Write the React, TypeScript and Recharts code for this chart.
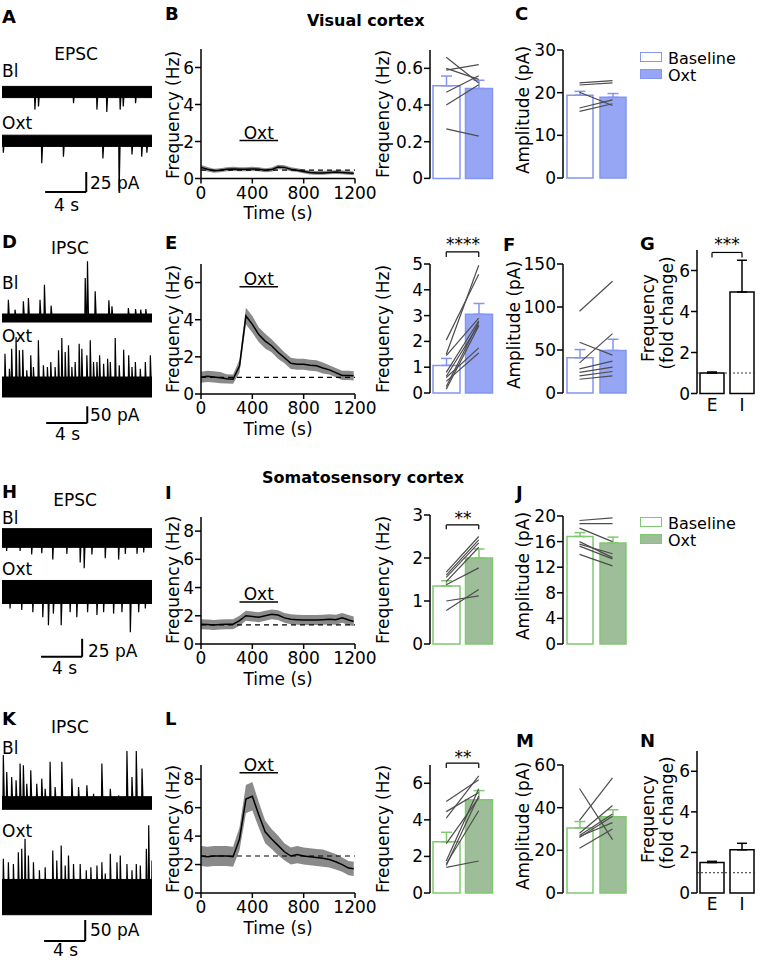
import React from "react";
import {
  Area,
  Bar,
  Cell,
  ComposedChart,
  ErrorBar,
  Line,
  LineChart,
  ReferenceArea,
  ReferenceLine,
  XAxis,
  YAxis,
} from "recharts";

const FONT = "DejaVu Sans";
const TICK = { fontSize: 17, fill: "#000", fontFamily: FONT };
const AX = { stroke: "#000", strokeWidth: 1.5 };

const BLUE = { edge: "#8396f0", fill: "#97a6f4" };
const GREEN = { edge: "#80c970", fill: "#9ebd99" };
const BLACK = { edge: "#000", fill: "#fff" };

// example traces: [time (s), amplitude (pA)] of visible events
const T_END = 14.6;
const A_BL = [[3.2, 22], [3.55, 18], [6.96, 14], [9.24, 22], [10.2, 25], [11.5, 22], [11.8, 18], [13.0, 14]];
const A_OXT = [[0.13, 15], [3.87, 28], [5.98, 20], [9.82, 22], [11.4, 63], [12.65, 17], [13.6, 20], [14.1, 15]];
const D_BL = [[0.62, 55], [1.27, 25], [2.08, 50], [2.57, 60], [3.7, 55], [4.13, 100], [4.78, 37], [8.1, 120], [8.32, 170], [9.07, 80], [10.4, 53], [10.7, 35], [12.3, 30], [13.0, 27], [13.5, 25], [14.0, 27]];
const D_OXT = [[0.29, 100], [0.72, 55], [0.94, 115], [1.37, 150], [1.69, 110], [2.02, 112], [2.41, 50], [2.8, 95], [3.06, 60], [3.54, 140], [4.03, 65], [4.42, 60], [4.75, 75], [5.17, 60], [5.5, 110], [5.82, 147], [6.15, 105], [6.47, 125], [6.8, 60], [7.12, 75], [7.51, 130], [7.77, 115], [8.26, 95], [8.59, 140], [8.91, 75], [9.24, 75], [9.5, 95], [9.89, 70], [10.28, 85], [10.54, 75], [11.02, 147], [11.41, 65], [11.84, 112], [12.33, 95], [12.65, 60], [12.98, 75], [13.46, 55], [13.95, 75], [14.44, 95]];
const H_BL = [[0.45, 18], [1.76, 18], [2.89, 23], [3.87, 21], [4.94, 30], [6.31, 22], [7.61, 34], [8.0, 42], [8.75, 23], [10.05, 28], [11.35, 30], [12.0, 22], [13.14, 22], [13.79, 20]];
const H_OXT = [[0.78, 23], [1.92, 25], [3.0, 28], [3.97, 35], [4.52, 46], [5.0, 30], [5.76, 46], [6.63, 28], [7.28, 35], [8.33, 28], [9.24, 32], [9.89, 28], [10.86, 30], [11.67, 28], [12.49, 56], [13.3, 28], [13.95, 23]];
const K_BL = [[0.13, 114], [0.46, 74], [0.94, 62], [1.37, 54], [1.76, 94], [2.08, 90], [2.41, 46], [2.8, 78], [3.38, 46], [3.87, 58], [4.2, 34], [4.68, 98], [5.17, 38], [5.82, 98], [6.8, 58], [7.45, 38], [8.26, 42], [8.91, 22], [9.72, 94], [10.54, 34], [11.35, 18], [12.16, 124], [12.65, 62], [13.07, 124], [13.63, 82]];
const K_OXT = [[0.13, 91], [0.62, 83], [1.11, 79], [1.59, 107], [1.92, 115], [2.24, 139], [2.57, 99], [3.06, 83], [3.64, 64], [4.2, 71], [4.94, 111], [5.33, 87], [5.76, 123], [6.15, 75], [6.47, 99], [6.96, 79], [7.61, 79], [8.2, 64], [8.65, 71], [9.24, 75], [9.72, 83], [10.05, 56], [10.54, 103], [11.19, 83], [11.51, 99], [12.16, 79], [12.65, 64], [13.07, 79], [13.46, 75], [14.05, 115], [14.28, 171], [14.6, 87]];

// time courses (s, Hz)
const TIME = [0, 50, 100, 150, 200, 250, 300, 350, 400, 450, 500, 550, 600, 650, 700, 750, 800, 850, 900, 950, 1000, 1050, 1100, 1150, 1190];
const B_MEAN = [0.6, 0.5, 0.42, 0.45, 0.5, 0.52, 0.5, 0.5, 0.52, 0.5, 0.45, 0.48, 0.62, 0.6, 0.5, 0.45, 0.38, 0.32, 0.3, 0.3, 0.33, 0.35, 0.33, 0.3, 0.28];
const B_SEM = [0.13, 0.12, 0.11, 0.11, 0.11, 0.11, 0.11, 0.11, 0.11, 0.11, 0.11, 0.11, 0.12, 0.12, 0.11, 0.1, 0.1, 0.1, 0.1, 0.1, 0.1, 0.1, 0.1, 0.1, 0.1];
const E_MEAN = [0.9, 0.95, 0.92, 0.88, 0.82, 0.8, 1.5, 4.2, 3.75, 3.2, 2.85, 2.6, 2.25, 1.95, 1.65, 1.6, 1.6, 1.55, 1.52, 1.4, 1.3, 1.15, 1.0, 1.0, 0.98];
const E_SEM = [0.3, 0.3, 0.3, 0.3, 0.25, 0.25, 0.35, 0.45, 0.45, 0.4, 0.4, 0.35, 0.35, 0.3, 0.3, 0.3, 0.3, 0.3, 0.3, 0.3, 0.25, 0.25, 0.25, 0.25, 0.25];
const I_MEAN = [1.4, 1.38, 1.35, 1.38, 1.4, 1.4, 1.65, 2.0, 1.95, 1.9, 2.0, 2.1, 2.05, 1.85, 1.75, 1.72, 1.7, 1.7, 1.7, 1.72, 1.75, 1.72, 1.85, 1.7, 1.6];
const I_SEM = [0.35, 0.35, 0.35, 0.35, 0.35, 0.35, 0.35, 0.35, 0.35, 0.35, 0.35, 0.35, 0.35, 0.35, 0.35, 0.35, 0.35, 0.35, 0.35, 0.35, 0.35, 0.35, 0.35, 0.35, 0.35];
const L_MEAN = [2.6, 2.55, 2.6, 2.6, 2.6, 2.55, 3.8, 6.6, 6.8, 5.5, 4.3, 3.8, 3.35, 2.9, 2.6, 2.7, 2.6, 2.55, 2.5, 2.45, 2.35, 2.2, 2.0, 1.75, 1.7];
const L_SEM = [0.7, 0.7, 0.7, 0.7, 0.7, 0.7, 0.8, 1.0, 1.0, 0.9, 0.8, 0.7, 0.7, 0.6, 0.6, 0.6, 0.6, 0.6, 0.6, 0.6, 0.55, 0.55, 0.5, 0.5, 0.5];

// bar summaries: [Baseline, Oxt]
const B_FREQ = [0.505, 0.49];
const B_FREQ_SEM = [0.053, 0.045];
const B_FREQ_PRE = [0.66, 0.6, 0.59, 0.47, 0.4, 0.27];
const B_FREQ_POST = [0.52, 0.54, 0.62, 0.56, 0.51, 0.23];
const C_AMP = [19.4, 18.9];
const C_AMP_SEM = [0.9, 0.9];
const C_AMP_PRE = [22.3, 21.8, 20.1, 16.4, 15.6];
const C_AMP_POST = [22.8, 22.3, 17.0, 18.3, 17.4];
const E_FREQ = [1.07, 3.05];
const E_FREQ_SEM = [0.27, 0.42];
const E_FREQ_PRE = [2.05, 1.5, 1.45, 0.8, 0.65, 0.6, 0.45, 0.25, 0.15];
const E_FREQ_POST = [4.6, 4.95, 2.9, 2.8, 2.65, 1.75, 1.55, 2.75, 2.6];
const F_AMP = [41, 49.5];
const F_AMP_SEM = [9.5, 13];
const F_AMP_PRE = [95, 59, 35, 28, 24, 20, 16];
const F_AMP_POST = [130, 44, 69, 37, 30, 25, 20];
const G_FOLD = [1.0, 4.95];
const G_FOLD_SEM = [0.05, 1.55];
const I_FREQ = [1.35, 2.0];
const I_FREQ_SEM = [0.12, 0.21];
const I_FREQ_PRE = [1.67, 1.6, 1.55, 1.45, 1.38, 1.0, 0.78];
const I_FREQ_POST = [2.5, 2.42, 2.35, 2.25, 1.77, 1.12, 1.27];
const J_AMP = [16.8, 15.8];
const J_AMP_SEM = [0.6, 0.9];
const J_AMP_PRE = [19.3, 18.8, 18.1, 16.0, 15.6, 15.3, 14.0];
const J_AMP_POST = [19.7, 18.8, 16.0, 13.5, 14.1, 13.3, 12.2];
const L_FREQ = [2.8, 5.1];
const L_FREQ_SEM = [0.52, 0.5];
const L_FREQ_PRE = [5.0, 4.45, 4.1, 2.7, 1.75, 1.6, 1.5, 1.4];
const L_FREQ_POST = [6.2, 5.5, 6.4, 5.2, 5.7, 4.5, 5.3, 1.75];
const M_AMP = [30.5, 35.8];
const M_AMP_SEM = [3, 3.2];
const M_AMP_PRE = [49, 34, 28, 27, 26.5, 26, 21];
const M_AMP_POST = [25, 54, 41, 37, 33, 36, 30];
const N_FOLD = [1.5, 2.13];
const N_FOLD_SEM = [0.06, 0.32];

const GROUPS = ["Baseline", "Oxt"];
const FOLD_CATS = ["E", "I"];

type Box = { x0: number; x1: number; y0: number; y1: number };
const YW = 40;
const PAD_T = 24;
const PAD_B = 12;

function place(b: Box, xh: number, padR: number) {
  return {
    left: b.x0 - YW,
    top: b.y0 - PAD_T,
    width: b.x1 - b.x0 + YW + padR,
    height: b.y1 - b.y0 + PAD_T + xh,
  };
}

function Txt({ x, y, s = 17, bold = false, center = false, children }: any) {
  return (
    <div
      style={{
        position: "absolute",
        left: x,
        top: y - 0.12 * s,
        fontSize: s,
        lineHeight: `${s}px`,
        fontWeight: bold ? 700 : 400,
        whiteSpace: "nowrap",
        transform: center ? "translateX(-50%)" : undefined,
      }}
    >
      {children}
    </div>
  );
}

function VTxt({ cx, cy, s = 17, children }: any) {
  return (
    <div
      style={{
        position: "absolute",
        left: cx,
        top: cy,
        fontSize: s,
        lineHeight: `${s}px`,
        whiteSpace: "nowrap",
        transform: "translate(-50%, -50%) rotate(-90deg)",
      }}
    >
      {children}
    </div>
  );
}

function spikes(ev: number[][], off: number, dir: number) {
  const pts = [{ t: 0, v: off }];
  ev.forEach(([t, a]) => {
    pts.push({ t: t - 0.04, v: off }, { t, v: off + dir * a }, { t: t + 0.1, v: off });
  });
  pts.push({ t: T_END, v: off });
  return pts;
}

type Row = { ev: number[][]; off: number; dir: number; noise: number };

function Trace({ top, height, lo, hi, rows, bar }: { top: number; height: number; lo: number; hi: number; rows: Row[]; bar: { x: number; y0: number; y1: number } }) {
  return (
    <div style={{ position: "absolute", left: 2, top }}>
      <LineChart width={150} height={height} margin={{ top: 0, right: 0, bottom: 0, left: 0 }}>
        <XAxis type="number" dataKey="t" domain={[0, T_END]} hide allowDataOverflow />
        <YAxis type="number" domain={[lo, hi]} hide allowDataOverflow />
        {rows.map((r, i) => (
          <ReferenceArea key={`n${i}`} x1={0} x2={T_END} y1={r.off - r.noise} y2={r.off + r.noise} fill="#000" fillOpacity={1} stroke="#000" strokeWidth={1} />
        ))}
        {rows.map((r, i) => (
          <Line key={`s${i}`} data={spikes(r.ev, r.off, r.dir)} dataKey="v" stroke="#000" strokeWidth={1.2} dot={false} isAnimationActive={false} />
        ))}
        <ReferenceLine segment={[{ x: bar.x, y: bar.y0 }, { x: bar.x, y: bar.y1 }]} stroke="#000" strokeWidth={2} />
        <ReferenceLine segment={[{ x: bar.x - 4, y: bar.y1 }, { x: bar.x, y: bar.y1 }]} stroke="#000" strokeWidth={2} />
      </LineChart>
    </div>
  );
}

function TimeCourse({ box, mean, sem, base, yMax, yTicks, oxtY }: { box: Box; mean: number[]; sem: number[]; base: number; yMax: number; yTicks: number[]; oxtY: number }) {
  const data = TIME.map((t, i) => ({ t, m: mean[i], band: [mean[i] - sem[i], mean[i] + sem[i]] }));
  const p = place(box, 30, 22);
  return (
    <div style={{ position: "absolute", left: p.left, top: p.top }}>
      <ComposedChart width={p.width} height={p.height} data={data} margin={{ top: PAD_T, right: 22, bottom: 0, left: 0 }}>
        <XAxis dataKey="t" type="number" domain={[0, 1200]} ticks={[0, 400, 800, 1200]} interval={0} height={30} tick={TICK} tickSize={5} tickMargin={3} axisLine={AX} tickLine={AX} />
        <YAxis type="number" domain={[0, yMax]} ticks={yTicks} interval={0} width={YW} tick={TICK} tickSize={6} tickMargin={1} axisLine={AX} tickLine={AX} />
        <Area dataKey="band" stroke="none" fill="#8a8a8a" fillOpacity={1} isAnimationActive={false} />
        <ReferenceLine y={base} stroke="#000" strokeWidth={1.2} strokeDasharray="5 4" />
        <Line dataKey="m" stroke="#000" strokeWidth={1.5} dot={false} isAnimationActive={false} />
        <ReferenceLine
          segment={[{ x: 300, y: oxtY }, { x: 600, y: oxtY }]}
          stroke="#000"
          strokeWidth={1.5}
          ifOverflow="visible"
          label={{ value: "Oxt", position: "top", fill: "#000", fontSize: 17, fontFamily: FONT, offset: 2 }}
        />
      </ComposedChart>
    </div>
  );
}

function PairBars({ box, yMax, yTicks, mean, sem, pre, post, col, barSize, bracket }: any) {
  const data = GROUPS.map((name, g) => {
    const row: any = { name, v: mean[g], e: [0, sem[g]] };
    (g === 0 ? pre : post).forEach((v: number, i: number) => (row[`p${i}`] = v));
    return row;
  });
  const p = place(box, PAD_B, 4);
  const br = bracket
    ? [
        [{ x: "Baseline", y: bracket.y }, { x: "Oxt", y: bracket.y }],
        [{ x: "Baseline", y: bracket.y }, { x: "Baseline", y: bracket.y - bracket.d }],
        [{ x: "Oxt", y: bracket.y }, { x: "Oxt", y: bracket.y - bracket.d }],
      ]
    : [];
  return (
    <div style={{ position: "absolute", left: p.left, top: p.top }}>
      <ComposedChart width={p.width} height={p.height} data={data} margin={{ top: PAD_T, right: 4, bottom: PAD_B, left: 0 }}>
        <XAxis dataKey="name" hide />
        <YAxis type="number" domain={[0, yMax]} ticks={yTicks} interval={0} width={YW} tick={TICK} tickSize={6} tickMargin={1} axisLine={AX} tickLine={AX} />
        <Bar dataKey="v" barSize={barSize} isAnimationActive={false}>
          {data.map((d, i) => (
            <Cell key={d.name} fill={i === 0 ? "#fff" : col.fill} stroke={col.edge} strokeWidth={1.5} />
          ))}
          <ErrorBar dataKey="e" width={5.5} stroke={col.edge} strokeWidth={1.5} direction="y" />
        </Bar>
        {pre.map((_: number, i: number) => (
          <Line key={i} dataKey={`p${i}`} stroke="#4d4d4d" strokeWidth={1.2} dot={false} isAnimationActive={false} />
        ))}
        {br.map((seg, i) => (
          <ReferenceLine key={`br${i}`} segment={seg} stroke="#000" strokeWidth={1.2} ifOverflow="visible" />
        ))}
      </ComposedChart>
    </div>
  );
}

function FoldBars({ box, mean, sem, bracket }: any) {
  const data = FOLD_CATS.map((name, g) => ({ name, v: mean[g], e: [0, sem[g]] }));
  const p = place(box, 25, 6);
  const br = bracket
    ? [
        [{ x: "E", y: bracket.y }, { x: "I", y: bracket.y }],
        [{ x: "E", y: bracket.y }, { x: "E", y: bracket.y - bracket.d }],
        [{ x: "I", y: bracket.y }, { x: "I", y: bracket.y - bracket.d }],
      ]
    : [];
  return (
    <div style={{ position: "absolute", left: p.left, top: p.top }}>
      <ComposedChart width={p.width} height={p.height} data={data} margin={{ top: PAD_T, right: 6, bottom: 0, left: 0 }}>
        <XAxis dataKey="name" height={25} tick={TICK} axisLine={false} tickLine={false} tickSize={0} tickMargin={5} />
        <YAxis type="number" domain={[0, 7]} ticks={[0, 2, 4, 6]} interval={0} width={YW} tick={TICK} tickSize={6} tickMargin={1} axisLine={AX} tickLine={AX} />
        <ReferenceLine y={1} stroke="#333" strokeWidth={1} strokeDasharray="2 2" />
        <Bar dataKey="v" barSize={24} isAnimationActive={false}>
          {data.map((d) => (
            <Cell key={d.name} fill={BLACK.fill} stroke={BLACK.edge} strokeWidth={1.5} />
          ))}
          <ErrorBar dataKey="e" width={5} stroke="#000" strokeWidth={1.5} direction="y" />
        </Bar>
        {br.map((seg, i) => (
          <ReferenceLine key={`br${i}`} segment={seg} stroke="#000" strokeWidth={1.2} ifOverflow="visible" />
        ))}
      </ComposedChart>
    </div>
  );
}

function Legend({ top, col }: { top: number; col: { edge: string; fill: string } }) {
  const sq = (t: number, fill: string) => (
    <div style={{ position: "absolute", left: 640, top: t, width: 20, height: 8, border: `1.5px solid ${col.edge}`, background: fill }} />
  );
  return (
    <>
      {sq(top, "#fff")}
      {sq(top + 17, col.fill)}
      <Txt x={668} y={top + 0.8} s={16}>Baseline</Txt>
      <Txt x={668} y={top + 18} s={16}>Oxt</Txt>
    </>
  );
}

export default function App() {
  return (
    <div style={{ position: "absolute", left: 0, top: 0, width: 766, height: 965, background: "#fff", fontFamily: FONT, color: "#000", overflow: "hidden" }}>
      {/* row 1: visual cortex EPSC */}
      <Txt x={2} y={10} s={18} bold>A</Txt>
      <Txt x={76} y={48} center>EPSC</Txt>
      <Txt x={2} y={65}>Bl</Txt>
      <Txt x={2} y={117}>Oxt</Txt>
      <Trace
        top={80}
        height={120}
        lo={-135}
        hi={15}
        rows={[
          { ev: A_BL, off: 0, dir: -1, noise: 7 },
          { ev: A_OXT, off: -61, dir: -1, noise: 7 },
        ]}
        bar={{ x: 8.2, y0: -100, y1: -125 }}
      />
      <Txt x={90} y={177}>25 pA</Txt>
      <Txt x={54} y={199}>4 s</Txt>

      <Txt x={165} y={7} s={18} bold>B</Txt>
      <Txt x={307} y={15} s={16} bold>Visual cortex</Txt>
      <VTxt cx={173} cy={115}>Frequency (Hz)</VTxt>
      <TimeCourse box={{ x0: 201, x1: 355, y0: 48.5, y1: 178 }} mean={B_MEAN} sem={B_SEM} base={0.45} yMax={7} yTicks={[0, 2, 4, 6]} oxtY={2.05} />
      <Txt x={278} y={207} center>Time (s)</Txt>
      <VTxt cx={382.5} cy={114}>Frequency (Hz)</VTxt>
      <PairBars box={{ x0: 430, x1: 495, y0: 49.6, y1: 178 }} yMax={0.7} yTicks={[0, 0.2, 0.4, 0.6]} mean={B_FREQ} sem={B_FREQ_SEM} pre={B_FREQ_PRE} post={B_FREQ_POST} col={BLUE} barSize={27} />
      <Txt x={515} y={7} s={18} bold>C</Txt>
      <VTxt cx={522.5} cy={110}>Amplitude (pA)</VTxt>
      <PairBars box={{ x0: 563, x1: 629, y0: 50, y1: 178 }} yMax={30} yTicks={[0, 10, 20, 30]} mean={C_AMP} sem={C_AMP_SEM} pre={C_AMP_PRE} post={C_AMP_POST} col={BLUE} barSize={26} />
      <Legend top={52} col={BLUE} />

      {/* row 2: visual cortex IPSC */}
      <Txt x={2} y={235} s={18} bold>D</Txt>
      <Txt x={70} y={242} center>IPSC</Txt>
      <Txt x={2} y={277}>Bl</Txt>
      <Txt x={2} y={330}>Oxt</Txt>
      <Trace
        top={250}
        height={190}
        lo={-366}
        hi={204}
        rows={[
          { ev: D_BL, off: 0, dir: 1, noise: 12 },
          { ev: D_OXT, off: -207, dir: 1, noise: 30 },
        ]}
        bar={{ x: 8.3, y0: -265, y1: -315 }}
      />
      <Txt x={90} y={409}>50 pA</Txt>
      <Txt x={55} y={428}>4 s</Txt>

      <Txt x={165} y={236} s={18} bold>E</Txt>
      <VTxt cx={173} cy={329}>Frequency (Hz)</VTxt>
      <TimeCourse box={{ x0: 201, x1: 355, y0: 264, y1: 394 }} mean={E_MEAN} sem={E_SEM} base={0.9} yMax={7} yTicks={[0, 2, 4, 6]} oxtY={5.78} />
      <Txt x={278} y={423} center>Time (s)</Txt>
      <VTxt cx={382.5} cy={329}>Frequency (Hz)</VTxt>
      <Txt x={463} y={238} center>****</Txt>
      <PairBars box={{ x0: 430, x1: 495, y0: 264, y1: 393 }} yMax={5} yTicks={[0, 1, 2, 3, 4, 5]} mean={E_FREQ} sem={E_FREQ_SEM} pre={E_FREQ_PRE} post={E_FREQ_POST} col={BLUE} barSize={27} bracket={{ y: 5.47, d: 0.2 }} />
      <Txt x={503} y={238} s={18} bold>F</Txt>
      <VTxt cx={513.5} cy={325}>Amplitude (pA)</VTxt>
      <PairBars box={{ x0: 563, x1: 629, y0: 264, y1: 393 }} yMax={150} yTicks={[0, 50, 100, 150]} mean={F_AMP} sem={F_AMP_SEM} pre={F_AMP_PRE} post={F_AMP_POST} col={BLUE} barSize={26} />
      <Txt x={640} y={237} s={18} bold>G</Txt>
      <VTxt cx={648} cy={318}>Frequency</VTxt>
      <VTxt cx={667} cy={313}>(fold change)</VTxt>
      <Txt x={727} y={238} center>***</Txt>
      <FoldBars box={{ x0: 697, x1: 757, y0: 249.5, y1: 393 }} mean={G_FOLD} sem={G_FOLD_SEM} bracket={{ y: 6.88, d: 0.25 }} />

      {/* row 3: somatosensory cortex EPSC */}
      <Txt x={2} y={485} s={18} bold>H</Txt>
      <Txt x={75} y={494} center>EPSC</Txt>
      <Txt x={2} y={512}>Bl</Txt>
      <Txt x={2} y={563}>Oxt</Txt>
      <Trace
        top={500}
        height={165}
        lo={-176.4}
        hi={52.8}
        rows={[
          { ev: H_BL, off: 0, dir: -1, noise: 13 },
          { ev: H_OXT, off: -75, dir: -1, noise: 16 },
        ]}
        bar={{ x: 7.8, y0: -140, y1: -165 }}
      />
      <Txt x={88} y={645}>25 pA</Txt>
      <Txt x={52} y={662}>4 s</Txt>

      <Txt x={165} y={486} s={18} bold>I</Txt>
      <Txt x={262} y={472} s={16} bold>Somatosensory cortex</Txt>
      <VTxt cx={173} cy={580}>Frequency (Hz)</VTxt>
      <TimeCourse box={{ x0: 201, x1: 355, y0: 517, y1: 644 }} mean={I_MEAN} sem={I_SEM} base={1.35} yMax={9} yTicks={[0, 2, 4, 6, 8]} oxtY={2.98} />
      <Txt x={278} y={673} center>Time (s)</Txt>
      <VTxt cx={382.5} cy={580}>Frequency (Hz)</VTxt>
      <Txt x={463} y={512} center>**</Txt>
      <PairBars box={{ x0: 430, x1: 495, y0: 515, y1: 644 }} yMax={3} yTicks={[0, 1, 2, 3]} mean={I_FREQ} sem={I_FREQ_SEM} pre={I_FREQ_PRE} post={I_FREQ_POST} col={GREEN} barSize={27} bracket={{ y: 2.77, d: 0.1 }} />
      <Txt x={516} y={486} s={18} bold>J</Txt>
      <VTxt cx={522.5} cy={576}>Amplitude (pA)</VTxt>
      <PairBars box={{ x0: 563, x1: 629, y0: 516, y1: 644 }} yMax={20} yTicks={[0, 4, 8, 12, 16, 20]} mean={J_AMP} sem={J_AMP_SEM} pre={J_AMP_PRE} post={J_AMP_POST} col={GREEN} barSize={26} />
      <Legend top={517} col={GREEN} />

      {/* row 4: somatosensory cortex IPSC */}
      <Txt x={2} y={712} s={18} bold>K</Txt>
      <Txt x={70} y={721} center>IPSC</Txt>
      <Txt x={2} y={742}>Bl</Txt>
      <Txt x={2} y={825}>Oxt</Txt>
      <Trace
        top={740}
        height={220}
        lo={-373.8}
        hi={150}
        rows={[
          { ev: K_BL, off: 0, dir: 1, noise: 15 },
          { ev: K_OXT, off: -224, dir: 1, noise: 42 },
        ]}
        bar={{ x: 8.1, y0: -278.6, y1: -328.6 }}
      />
      <Txt x={90} y={924}>50 pA</Txt>
      <Txt x={53} y={944}>4 s</Txt>

      <Txt x={165} y={712} s={18} bold>L</Txt>
      <VTxt cx={173} cy={829}>Frequency (Hz)</VTxt>
      <TimeCourse box={{ x0: 201, x1: 355, y0: 765, y1: 893 }} mean={L_MEAN} sem={L_SEM} base={2.6} yMax={9} yTicks={[0, 2, 4, 6, 8]} oxtY={8.46} />
      <Txt x={278} y={922} center>Time (s)</Txt>
      <VTxt cx={382.5} cy={829}>Frequency (Hz)</VTxt>
      <Txt x={463} y={751} center>**</Txt>
      <PairBars box={{ x0: 430, x1: 495, y0: 765, y1: 893 }} yMax={7} yTicks={[0, 2, 4, 6]} mean={L_FREQ} sem={L_FREQ_SEM} pre={L_FREQ_PRE} post={L_FREQ_POST} col={GREEN} barSize={27} bracket={{ y: 7.1, d: 0.27 }} />
      <Txt x={516} y={734} s={18} bold>M</Txt>
      <VTxt cx={522.5} cy={826}>Amplitude (pA)</VTxt>
      <PairBars box={{ x0: 563, x1: 629, y0: 765, y1: 893 }} yMax={60} yTicks={[0, 20, 40, 60]} mean={M_AMP} sem={M_AMP_SEM} pre={M_AMP_PRE} post={M_AMP_POST} col={GREEN} barSize={26} />
      <Txt x={640} y={734} s={18} bold>N</Txt>
      <VTxt cx={648} cy={819}>Frequency</VTxt>
      <VTxt cx={667} cy={813}>(fold change)</VTxt>
      <FoldBars box={{ x0: 697, x1: 757, y0: 751, y1: 893 }} mean={N_FOLD} sem={N_FOLD_SEM} />
    </div>
  );
}
